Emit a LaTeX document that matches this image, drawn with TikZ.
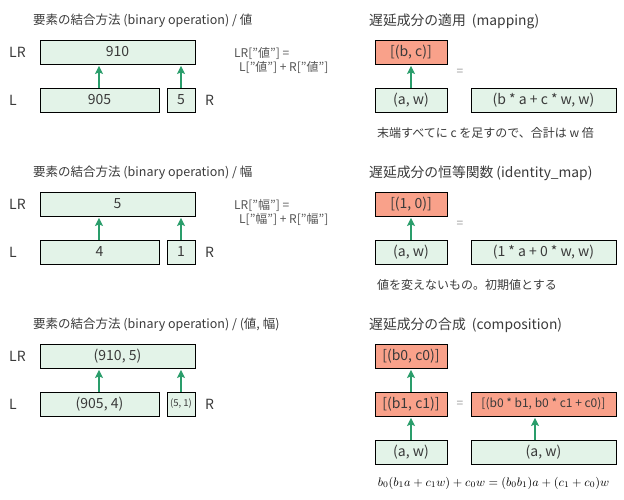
\documentclass[tikz,border=0pt]{standalone}
\usepackage{fontspec}
\setmainfont{Noto Sans CJK JP}
\usetikzlibrary{arrows.meta}
\definecolor{gfill}{HTML}{E3F3E8}
\definecolor{ofill}{HTML}{F9A18A}
\definecolor{agreen}{HTML}{2A9D6B}
\definecolor{tgray}{HTML}{3A3A3A}
\definecolor{lgray}{HTML}{555555}
\tikzset{
  box/.style={draw=black, line width=0.9pt, inner sep=0pt, text=tgray, font=\fontsize{14}{16}\selectfont},
  gbox/.style={box, fill=gfill},
  obox/.style={box, fill=ofill},
  arr/.style={draw=agreen, line width=1.2pt, -{Stealth[length=8pt,width=8pt,inset=1.5pt]}, shorten >=1.5pt},
  ttl/.style={anchor=west, text=tgray, inner sep=0pt},
  lbl/.style={anchor=west, text=tgray, inner sep=0pt, font=\fontsize{14}{16}\selectfont},
  frm/.style={anchor=west, text=lgray, inner sep=0pt, font=\fontsize{12}{14}\selectfont},
  eqs/.style={text=lgray!60, inner sep=0pt, font=\fontsize{12}{14}\selectfont},
  note/.style={anchor=west, text=tgray, inner sep=0pt, font=\fontsize{12}{14}\selectfont},
  ltitle/.style={ttl, font=\fontsize{12.5}{15}\selectfont},
  rtitle/.style={ttl, font=\fontsize{13.8}{16}\selectfont},
}
\begin{document}
\begin{tikzpicture}[x=1pt,y=-1pt]
\useasboundingbox (0,0) rectangle (624,500);
% ---------- Left panel 1
\node[ltitle] (t1) at (33,21) {要素の結合方法 (binary operation) / 値};
\node[gbox, minimum width=155pt, minimum height=24pt] (lr1) at (117.5,52) {910};
\node[gbox, minimum width=119pt, minimum height=24pt] (l1) at (99.5,100) {905};
\node[gbox, minimum width=28pt, minimum height=24pt] (r1) at (181,100) {5};
\node[lbl] (lrl1) at (9,52) {LR};
\node[lbl] (ll1) at (9,100) {L};
\node[lbl] (rl1) at (205,100) {R};
\node[frm] (f1a) at (234,53) {LR["値"] =};
\node[frm] (f1b) at (239,67) {L["値"] + R["値"]};
\draw[arr] ([xshift=-0.5pt]l1.north) -- ([xshift=-0.5pt]l1.north |- lr1.south);
\draw[arr] (r1.north) -- (r1.north |- lr1.south);
% ---------- Left panel 2
\node[ltitle] (t2) at (33,173) {要素の結合方法 (binary operation) / 幅};
\node[gbox, minimum width=155pt, minimum height=24pt] (lr2) at (117.5,204) {5};
\node[gbox, minimum width=119pt, minimum height=24pt] (l2) at (99.5,252) {4};
\node[gbox, minimum width=28pt, minimum height=24pt] (r2) at (181,252) {1};
\node[lbl] (lrl2) at (9,204) {LR};
\node[lbl] (ll2) at (9,252) {L};
\node[lbl] (rl2) at (205,252) {R};
\node[frm] (f2a) at (234,205) {LR["幅"] =};
\node[frm] (f2b) at (239,219) {L["幅"] + R["幅"]};
\draw[arr] ([xshift=-0.5pt]l2.north) -- ([xshift=-0.5pt]l2.north |- lr2.south);
\draw[arr] (r2.north) -- (r2.north |- lr2.south);
% ---------- Left panel 3
\node[ltitle] (t3) at (33,325) {要素の結合方法 (binary operation) / (値, 幅)};
\node[gbox, minimum width=155pt, minimum height=24pt] (lr3) at (117.5,356) {(910, 5)};
\node[gbox, minimum width=119pt, minimum height=24pt] (l3) at (99.5,404) {(905, 4)};
\node[gbox, minimum width=28pt, minimum height=24pt, font=\fontsize{9.5}{11}\selectfont] (r3) at (181,404) {(5, 1)};
\node[lbl] (lrl3) at (9,356) {LR};
\node[lbl] (ll3) at (9,404) {L};
\node[lbl] (rl3) at (205,404) {R};
\draw[arr] ([xshift=-0.5pt]l3.north) -- ([xshift=-0.5pt]l3.north |- lr3.south);
\draw[arr] (r3.north) -- (r3.north |- lr3.south);
% ---------- Right panel 1
\node[rtitle] (t4) at (369,21) {遅延成分の適用\ \ (mapping)};
\node[obox, minimum width=72pt, minimum height=24pt] (o4) at (411,52) {[(b, c)]};
\node[gbox, minimum width=72pt, minimum height=24pt] (a4) at (411,100) {(a, w)};
\node[gbox, minimum width=145pt, minimum height=24pt] (m4) at (543.5,100) {(b * a + c * w, w)};
\node[eqs] (e4) at (460,72) {=};
\node[note] (n4) at (377,133) {末端すべてに c を足すので、合計は w 倍};
\draw[arr] (a4.north) -- (o4.south);
% ---------- Right panel 2
\node[rtitle] (t5) at (369,173) {遅延成分の恒等関数 (identity\_map)};
\node[obox, minimum width=72pt, minimum height=24pt] (o5) at (411,204) {[(1, 0)]};
\node[gbox, minimum width=72pt, minimum height=24pt] (a5) at (411,252) {(a, w)};
\node[gbox, minimum width=145pt, minimum height=24pt] (m5) at (543.5,252) {(1 * a + 0 * w, w)};
\node[eqs] (e5) at (460,224) {=};
\node[note] (n5) at (377,285) {値を変えないもの。初期値とする};
\draw[arr] (a5.north) -- (o5.south);
% ---------- Right panel 3
\node[rtitle] (t6) at (369,325) {遅延成分の合成\ \ (composition)};
\node[obox, minimum width=72pt, minimum height=24pt] (o6) at (411,356) {[(b0, c0)]};
\node[obox, minimum width=72pt, minimum height=24pt] (p6) at (411,404) {[(b1, c1)]};
\node[gbox, minimum width=72pt, minimum height=24pt] (a6) at (411,452) {(a, w)};
\node[obox, minimum width=145pt, minimum height=24pt, font=\fontsize{12}{14}\selectfont] (q6) at (543.5,404) {[(b0 * b1, b0 * c1 + c0)]};
\node[gbox, minimum width=145pt, minimum height=24pt] (b6) at (543.5,452) {(a, w)};
\node[eqs] (e6) at (460,404) {=};
\node[inner sep=0pt] (m6) at (493.5,483) {\scalebox{1.225}{$b_0(b_1 a + c_1 w) + c_0 w = (b_0 b_1) a + (c_1 + c_0) w$}};
\draw[arr] (p6.north) -- (o6.south);
\draw[arr] (a6.north) -- (p6.south);
\coordinate (b6x) at (535,440);
\draw[arr] (b6x) -- (b6x |- q6.south);
\end{tikzpicture}
\end{document}
